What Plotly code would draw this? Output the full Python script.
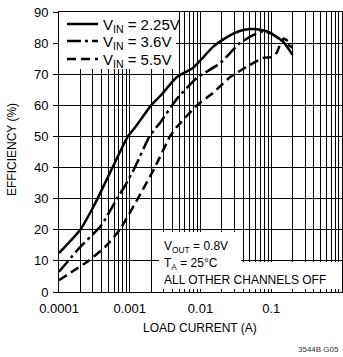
import plotly.graph_objects as go

# ---- data ----
x_225 = [0.0001, 0.0002, 0.0003, 0.00035, 0.00057, 0.00094, 0.0012, 0.002, 0.0027,
         0.0046, 0.0078, 0.011, 0.015, 0.024, 0.035, 0.05, 0.07, 0.097, 0.148, 0.2]
y_225 = [12.5, 20, 27, 30, 40, 50, 53, 60, 63,
         69, 72, 75.5, 78.8, 82, 83.8, 84.5, 84.3, 83.3, 80.4, 76.2]

x_36 = [0.0001, 0.0002, 0.0003, 0.0004, 0.00066, 0.00085, 0.00118, 0.0019, 0.0028,
        0.0046, 0.0089, 0.019, 0.036, 0.07, 0.097, 0.148, 0.2]
y_36 = [6.5, 14.5, 18.5, 21.5, 30, 34, 40, 50, 55,
        62, 68.8, 73.6, 80, 83.6, 83.2, 80.5, 78.5]

x_55 = [0.0001, 0.00026, 0.00045, 0.00072, 0.0013, 0.00226, 0.0037, 0.0046,
        0.0089, 0.015, 0.026, 0.05, 0.077, 0.1, 0.12, 0.135, 0.15, 0.2]
y_55 = [3.8, 10, 14.5, 20, 30, 40, 50, 53,
        60, 64, 69, 73, 75.2, 75.5, 77, 80, 81.5, 79.5]

series_names = ["V<sub>IN</sub> = 2.25V", "V<sub>IN</sub> = 3.6V", "V<sub>IN</sub> = 5.5V"]
x_ticks = [0.0001, 0.001, 0.01, 0.1, 1]
x_tick_labels = ["0.0001", "0.001", "0.01", "0.1", "1"]
y_ticks = [0, 10, 20, 30, 40, 50, 60, 70, 80, 90]

FONT = "Liberation Sans, Arial, sans-serif"

# plot area in pixels
L, R, T, B = 59, 342, 12, 292
W, H = R - L, B - T
def px(x):
    return (x - L) / W
def py(y):
    return (B - y) / H
def dx(p):  # pixel x -> data x (log axis, 4 decades)
    return 10 ** (-4 + 4 * (p - L) / W)
def dy(p):  # pixel y -> data y
    return 90 * (B - p) / H

fig = go.Figure()
styles = [
    dict(color="black", width=2.5, dash="solid"),
    dict(color="black", width=2.5, dash="14px,4px,3px,4px"),
    dict(color="black", width=2.5, dash="9px,5px"),
]
for xs, ys, name, st in zip([x_225, x_36, x_55], [y_225, y_36, y_55], series_names, styles):
    fig.add_trace(go.Scatter(x=xs, y=ys, mode="lines", name=name, showlegend=False,
                             line=dict(shape="spline", smoothing=0.5, **st)))

def white_rect(p0x, p1x, p0y, p1y):
    return dict(type="rect", xref="x", yref="y", x0=dx(p0x), x1=dx(p1x), y0=dy(p1y), y1=dy(p0y),
                fillcolor="white", line=dict(width=0), layer="between")

shapes = [
    white_rect(L, 176, T, 69),     # legend area
    white_rect(159, 241, 232, 262),  # annotation first line
    white_rect(159, R, 262, 289),    # annotation lower lines
]

annotations = [
    dict(text="V<sub>OUT</sub> = 0.8V", x=px(162), y=py(247), xanchor="left", yanchor="middle"),
    dict(text="T<sub>A</sub> = 25°C", x=px(162), y=py(264), xanchor="left", yanchor="middle"),
    dict(text="ALL OTHER CHANNELS OFF", x=px(162), y=py(280), xanchor="left", yanchor="middle"),
    dict(text="LOAD CURRENT (A)", x=px(200), y=py(328), xanchor="center", yanchor="middle"),
    dict(text="EFFICIENCY (%)", x=px(12), y=py(150), xanchor="center", yanchor="middle", textangle=-90),
    dict(text="3544B G05", x=px(341), y=py(349), xanchor="right", yanchor="middle",
         font=dict(size=8, family=FONT, color="#333")),
]

# legend drawn manually (key line + label)
legend_y = [24, 41, 59]
for name, st, ly in zip(series_names, styles, legend_y):
    shapes.append(dict(type="line", xref="paper", yref="paper", x0=px(67), x1=px(98),
                       y0=py(ly), y1=py(ly), line=dict(color="black", width=2.5, dash=st["dash"]),
                       layer="above"))
    annotations.append(dict(text=name, x=px(101), y=py(ly + 1.5), xanchor="left", yanchor="middle",
                            font=dict(size=15, family=FONT, color="black")))

for a in annotations:
    a.update(xref="paper", yref="paper", showarrow=False)
    a.setdefault("font", dict(size=12, family=FONT, color="black"))

fig.update_layout(
    width=343, height=357,
    margin=dict(l=L, r=343 - R, t=T, b=357 - B, pad=0),
    paper_bgcolor="white", plot_bgcolor="white",
    font=dict(family=FONT, size=13, color="black"),
    showlegend=False,
    shapes=shapes,
    annotations=annotations,
    xaxis=dict(type="log", range=[-4, 0], tickvals=x_ticks, ticktext=x_tick_labels,
               showgrid=True, gridcolor="black", gridwidth=1,
               ticks="inside", ticklen=3, tickcolor="black", ticklabelstandoff=4,
               minor=dict(dtick="D1", showgrid=True, gridcolor="black", gridwidth=1,
                          ticks="inside", ticklen=3, tickcolor="black"),
               showline=True, linecolor="black", linewidth=1, mirror=True,
               tickfont=dict(size=13, family=FONT), zeroline=False),
    yaxis=dict(range=[0, 90], tickvals=y_ticks, showgrid=True, gridcolor="black", gridwidth=1,
               ticks="outside", ticklen=5, tickcolor="black", ticklabelstandoff=2,
               showline=True, linecolor="black", linewidth=1, mirror=True,
               tickfont=dict(size=13, family=FONT), zeroline=False),
)

fig.write_html("out.html")
